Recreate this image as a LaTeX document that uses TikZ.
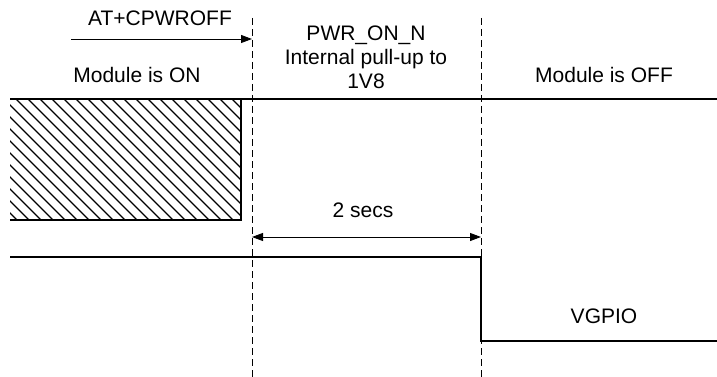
\documentclass[tikz,border=0pt]{standalone}
\usepackage{fontspec}
\setmainfont{Liberation Sans}
\usetikzlibrary{arrows.meta}
\begin{document}
\begin{tikzpicture}[x=1pt,y=-1pt,
  sig/.style={line width=2pt},
  guide/.style={line width=0.9pt,dash pattern=on 7pt off 4pt},
  dim/.style={line width=0.9pt,-{Triangle[length=11pt,width=8pt]}},
  dimboth/.style={line width=0.9pt,{Triangle[length=11pt,width=8pt]}-{Triangle[length=11pt,width=8pt]}},
  lbl/.style={font=\fontsize{21}{24}\selectfont,inner sep=0pt,align=center}]
\useasboundingbox (0,0) rectangle (717,377);
% guides
\coordinate (g1t) at (252,18); \coordinate (g1b) at (252,377);
\coordinate (g2t) at (481,18); \coordinate (g2b) at (481,377);
\draw[guide] (g1t) -- (g1b);
\draw[guide] (g2t) -- (g2b);
% hatch box
\begin{scope}
\clip (10,99) rectangle (241,220);
\foreach \i in {-140,-128,...,260} {
  \draw[line width=1.4pt] (\i,99) -- (\i+130,229);
}
\end{scope}
% top signal
\coordinate (a0) at (10,99); \coordinate (a1) at (717,99);
\coordinate (b0) at (241,99); \coordinate (b1) at (241,220); \coordinate (b2) at (10,220);
\draw[sig] (a0) -- (a1);
\draw[sig] (b0) -- (b1) -- (b2);
% lower signal
\coordinate (c0) at (10,257); \coordinate (c1) at (481,257);
\coordinate (c2) at (481,341); \coordinate (c3) at (717,341);
\draw[sig] (c0) -- (c1) -- (c2) -- (c3);
% arrows
\coordinate (arA) at (71,39); \coordinate (arB) at (252,39);
\draw[dim] (arA) -- (arB);
\coordinate (dA) at (252,237); \coordinate (dB) at (481,237);
\draw[dimboth] (dA) -- (dB);
% labels
\node[lbl] (cmd) at (160,18) {AT+CPWROFF};
\node[lbl] (on) at (137,75) {Module is ON};
\node[lbl] (pwr) at (366,57) {PWR\_ON\_N\\Internal pull-up to\\1V8};
\node[lbl] (off) at (604,75) {Module is OFF};
\node[lbl] (secs) at (363,210) {2 secs};
\node[lbl] (vg) at (604,316) {VGPIO};
\end{tikzpicture}
\end{document}
